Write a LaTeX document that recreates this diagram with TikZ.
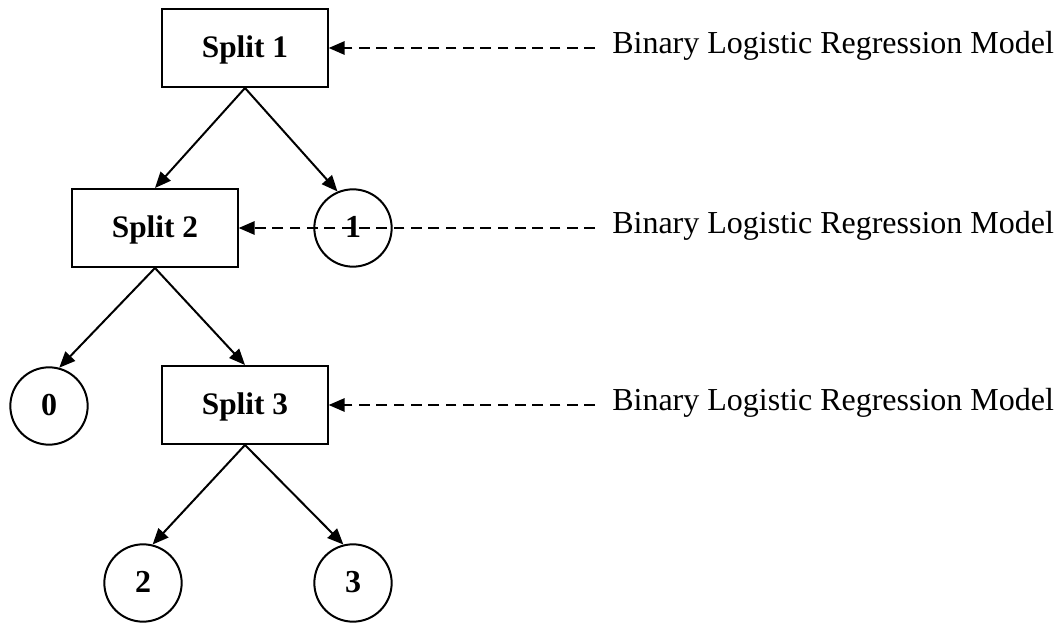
\documentclass[tikz,border=0pt]{standalone}
\usepackage{fontspec}
\setmainfont{Liberation Serif}
\usetikzlibrary{arrows.meta}
\begin{document}
\begin{tikzpicture}[x=0.75pt,y=-0.75pt,
  splitbox/.style={draw,line width=1.5pt,minimum width=124pt,minimum height=58.5pt,inner sep=0pt,text height=14pt,text depth=0pt,font=\fontsize{23.5}{26}\selectfont\bfseries},
  leaf/.style={draw,circle,line width=1.5pt,minimum size=58pt,inner sep=0pt,text height=14pt,text depth=0pt,font=\fontsize{24}{26}\selectfont\bfseries},
  edge/.style={line width=1.5pt,-{Triangle[length=12pt,width=10pt]}},
  dashedarrow/.style={line width=1.5pt,dash pattern=on 8pt off 5pt,-{Triangle[length=12pt,width=10pt]}},
  lbl/.style={anchor=base west,inner sep=0pt,font=\fontsize{24}{28}\selectfont}]
\useasboundingbox (0,0) rectangle (1057,623);
\node[splitbox] (s1) at (245,48) {Split 1};
\node[splitbox] (s2) at (155,228) {Split 2};
\node[splitbox] (s3) at (245,405) {Split 3};
\node[leaf] (c1) at (353,228) {1};
\node[leaf] (c0) at (49,406) {0};
\node[leaf] (c2) at (143,583) {2};
\node[leaf] (c3) at (353,583) {3};
\node[lbl] (l1) at (612,54) {Binary Logistic Regression Model};
\node[lbl] (l2) at (612,234) {Binary Logistic Regression Model};
\node[lbl] (l3) at (612,411) {Binary Logistic Regression Model};
\coordinate (d1) at (595,48);
\coordinate (d2) at (595,228);
\coordinate (d3) at (595,405);
\draw[edge] (s1.south) -- (s2.north);
\draw[edge] (s1.south) -- (c1.113);
\draw[edge] (s2.south) -- (c0.75);
\draw[edge] (s2.south) -- (s3.north);
\draw[edge] (s3.south) -- (c2.76);
\draw[edge] (s3.south) -- (c3.104);
\draw[dashedarrow] (d1) -- (s1.east);
\draw[dashedarrow] (d2) -- (s2.east);
\draw[dashedarrow] (d3) -- (s3.east);
\end{tikzpicture}
\end{document}
